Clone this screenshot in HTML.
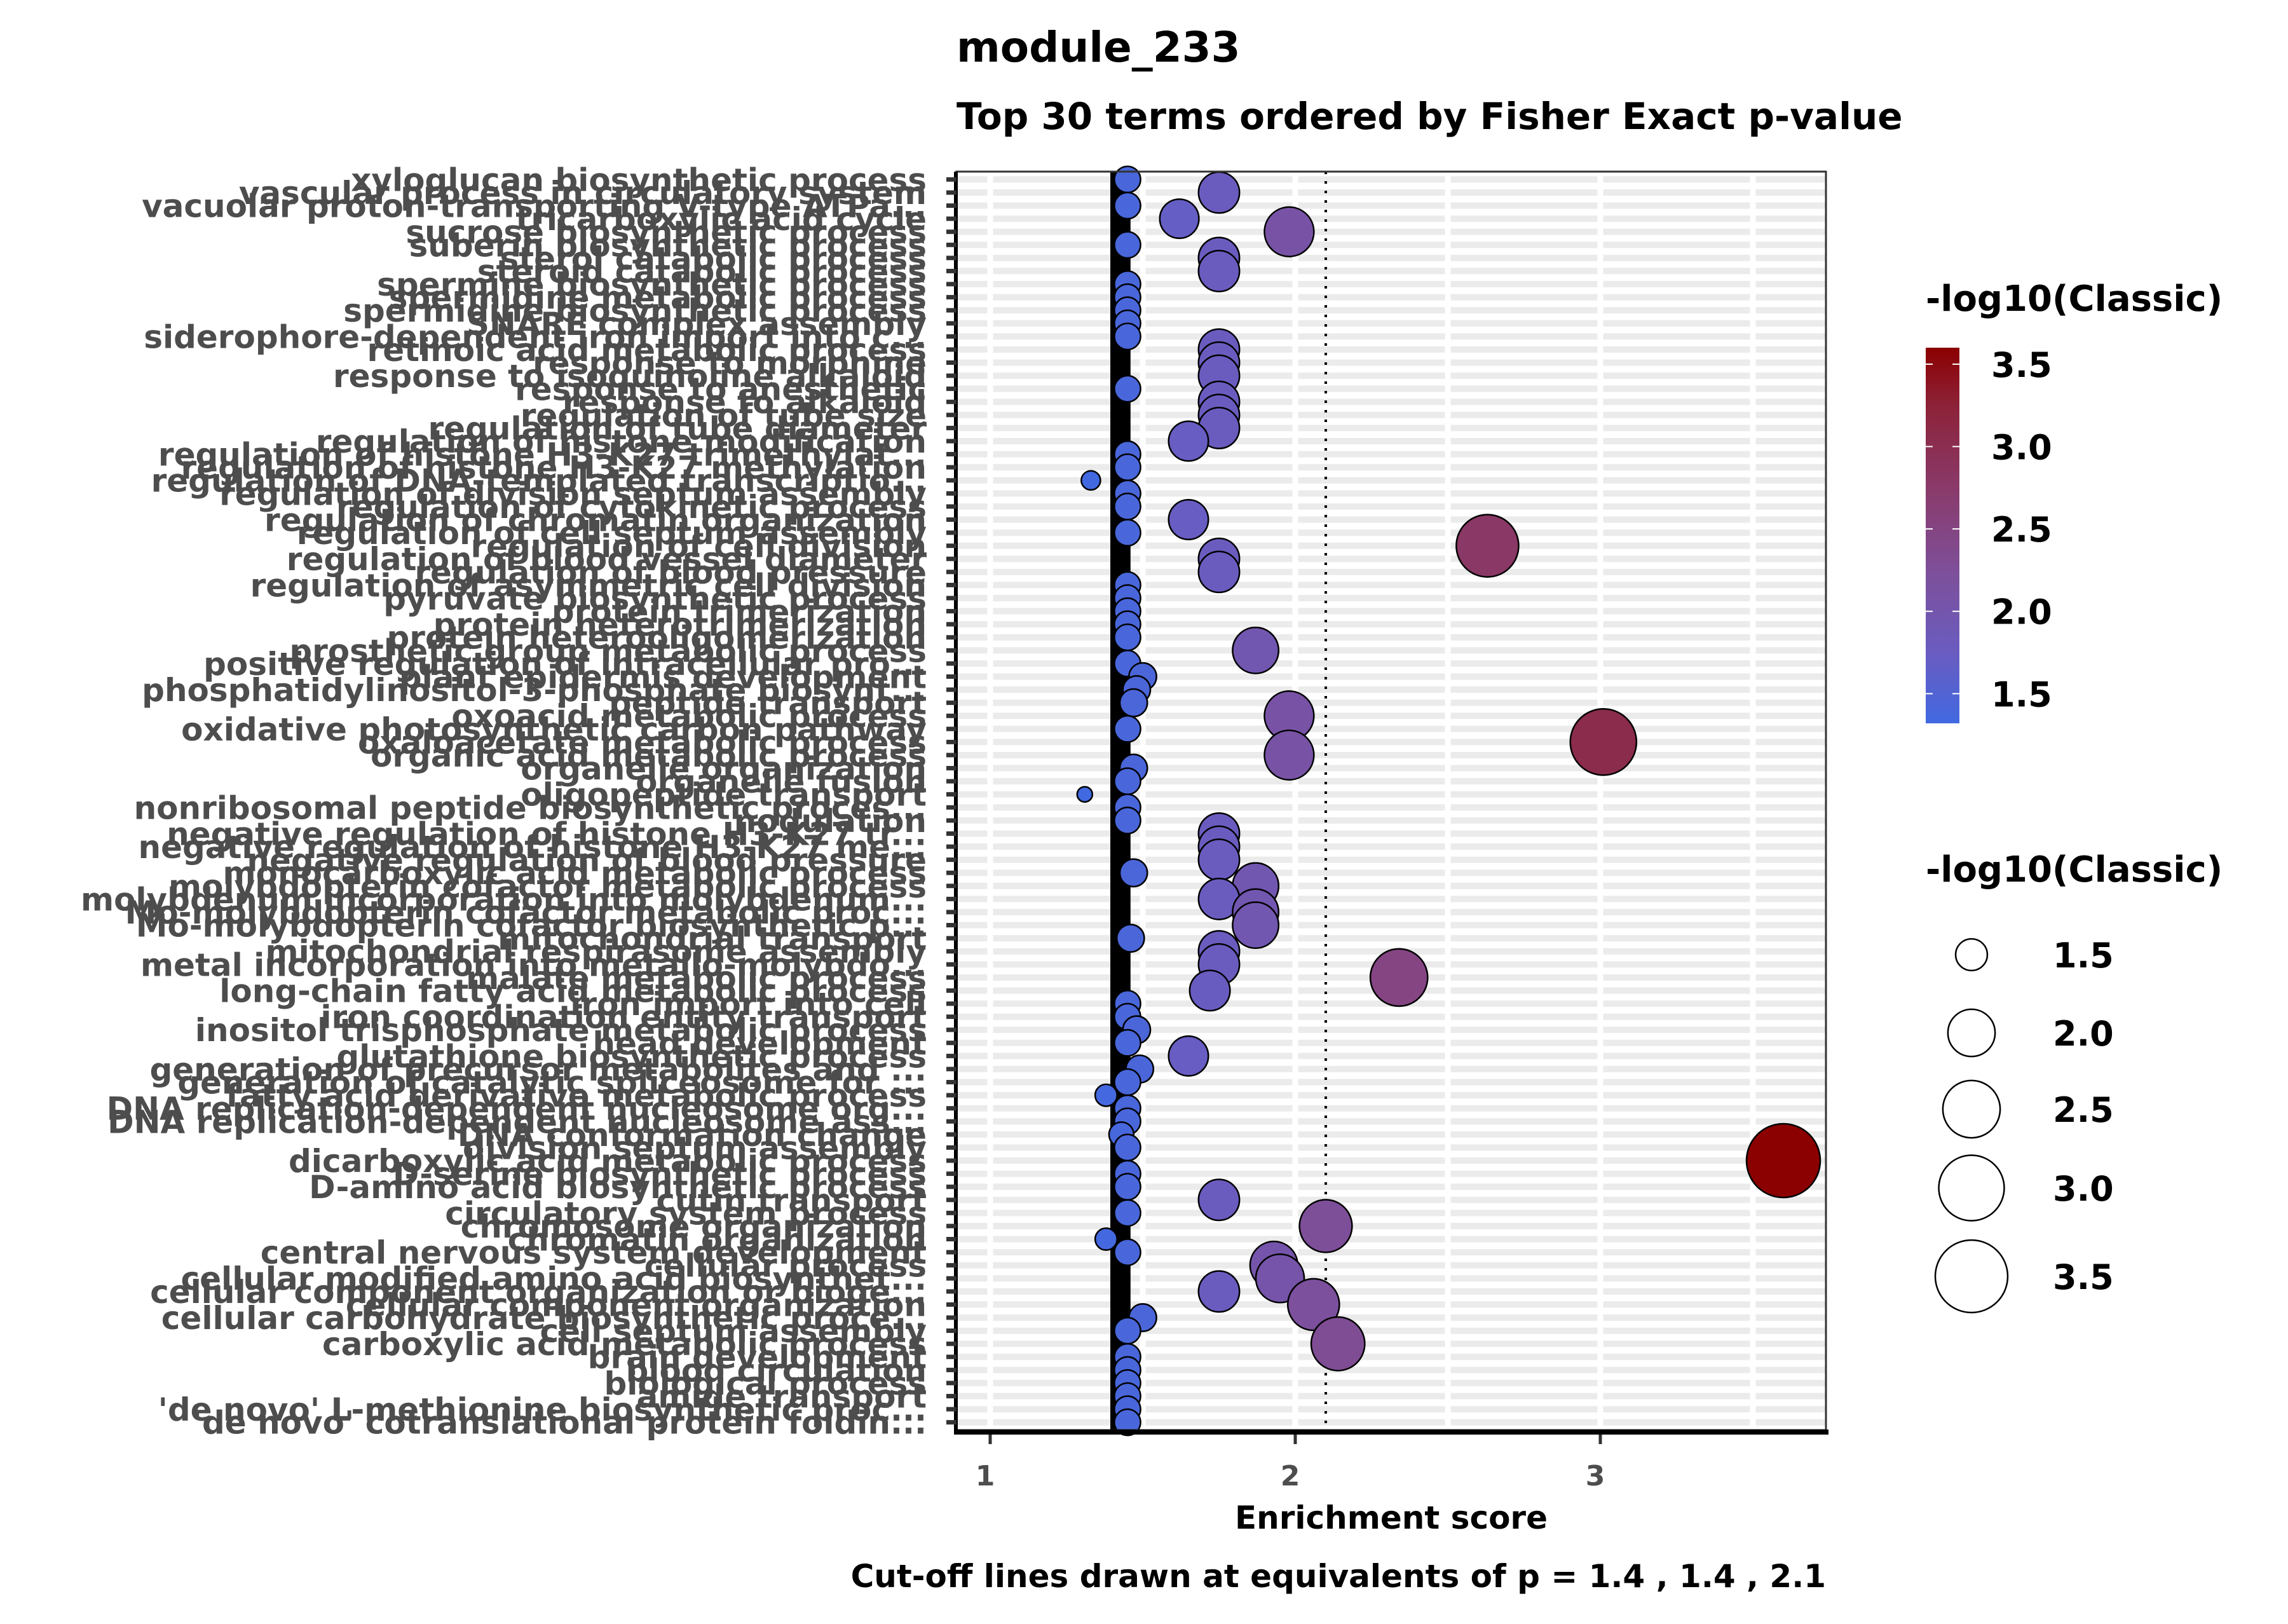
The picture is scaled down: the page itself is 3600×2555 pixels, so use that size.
<!DOCTYPE html>
<html><head><meta charset="utf-8"><style>
html,body{margin:0;padding:0;background:#fff;}
svg text{font-family:"DejaVu Sans","Liberation Sans",sans-serif;font-weight:bold;}
</style></head><body>
<svg id="chart" width="3600" height="2550" viewBox="0 0 3600 2550" xmlns="http://www.w3.org/2000/svg">
<text x="1505" y="97" font-size="66" fill="#000">module_233</text>
<text x="1505" y="203" font-size="58" fill="#000">Top 30 terms ordered by Fisher Exact p-value</text>
<g id="panel"></g>
<text x="2189" y="2405" font-size="50" text-anchor="middle" fill="#000">Enrichment score</text>
<text x="2873" y="2497" font-size="50" text-anchor="end" fill="#000">Cut-off lines drawn at equivalents of p = 1.4 , 1.4 , 2.1</text>
<g id="legend"></g>
</svg>
<script>
const terms = ["xyloglucan biosynthetic process","vascular process in circulatory system","vacuolar proton-transporting V-type ATPa...","tricarboxylic acid cycle","sucrose biosynthetic process","suberin biosynthetic process","sterol catabolic process","steroid catabolic process","spermine biosynthetic process","spermidine metabolic process","spermidine biosynthetic process","SNARE complex assembly","siderophore-dependent iron import into c...","retinoic acid metabolic process","response to morphine","response to isoquinoline alkaloid","response to anesthetic","response to alkaloid","regulation of tube size","regulation of tube diameter","regulation of histone modification","regulation of histone H3-K27 trimethylat...","regulation of histone H3-K27 methylation","regulation of DNA-templated transcriptio...","regulation of division septum assembly","regulation of cytokinetic process","regulation of chromatin organization","regulation of cell septum assembly","regulation of cell division","regulation of blood vessel diameter","regulation of blood pressure","regulation of asymmetric cell division","pyruvate biosynthetic process","protein trimerization","protein heterotrimerization","protein heterooligomerization","prosthetic group metabolic process","positive regulation of intracellular pro...","plant epidermis development","phosphatidylinositol-3-phosphate biosynt...","peptide transport","oxoacid metabolic process","oxidative photosynthetic carbon pathway","oxaloacetate metabolic process","organic acid metabolic process","organelle organization","organelle fusion","oligopeptide transport","nonribosomal peptide biosynthetic proces...","nodulation","negative regulation of histone H3-K27 tr...","negative regulation of histone H3-K27 me...","negative regulation of blood pressure","monocarboxylic acid metabolic process","molybdopterin cofactor metabolic process","molybdenum incorporation into molybdenum...","Mo-molybdopterin cofactor metabolic proc...","Mo-molybdopterin cofactor biosynthetic p...","mitochondrial transport","mitochondrial respirasome assembly","metal incorporation into metallo-molybdo...","malate metabolic process","long-chain fatty acid metabolic process","iron import into cell","iron coordination entity transport","inositol trisphosphate metabolic process","head development","glutathione biosynthetic process","generation of precursor metabolites and ...","generation of catalytic spliceosome for ...","fatty acid derivative metabolic process","DNA replication-dependent nucleosome org...","DNA replication-dependent nucleosome ass...","DNA conformation change","division septum assembly","dicarboxylic acid metabolic process","D-serine biosynthetic process","D-amino acid biosynthetic process","cutin transport","circulatory system process","chromosome organization","chromatin organization","central nervous system development","cellular process","cellular modified amino acid biosynthet...","cellular component organization or bioge...","cellular component organization","cellular carbohydrate biosynthetic proce...","cell septum assembly","carboxylic acid metabolic process","brain development","blood circulation","biological process","amide transport","'de novo' L-methionine biosynthetic proc...","'de novo' cotranslational protein foldin..."];
const enrichment = [1.45,1.75,1.45,1.62,1.98,1.45,1.75,1.75,1.45,1.45,1.45,1.45,1.45,1.75,1.75,1.75,1.45,1.75,1.75,1.75,1.65,1.45,1.45,1.33,1.45,1.45,1.65,1.45,2.63,1.75,1.75,1.45,1.45,1.45,1.45,1.45,1.87,1.45,1.50,1.48,1.47,1.98,1.45,3.01,1.98,1.47,1.45,1.31,1.45,1.45,1.75,1.75,1.75,1.47,1.87,1.75,1.87,1.87,1.46,1.75,1.75,2.34,1.72,1.45,1.45,1.48,1.45,1.65,1.49,1.45,1.38,1.45,1.45,1.43,1.45,3.60,1.45,1.45,1.75,1.45,2.10,1.38,1.45,1.93,1.95,1.75,2.06,1.50,1.45,2.14,1.45,1.45,1.45,1.45,1.45,1.45];
const logp = [1.40,1.76,1.40,1.70,2.10,1.40,1.76,1.76,1.40,1.40,1.40,1.40,1.40,1.76,1.76,1.76,1.40,1.76,1.76,1.76,1.72,1.40,1.40,1.33,1.40,1.40,1.72,1.40,2.80,1.76,1.76,1.40,1.40,1.40,1.40,1.40,1.95,1.40,1.42,1.42,1.42,2.10,1.40,3.05,2.10,1.42,1.40,1.32,1.40,1.40,1.76,1.76,1.76,1.42,1.95,1.76,1.95,1.95,1.42,1.76,1.76,2.50,1.74,1.40,1.40,1.42,1.40,1.72,1.42,1.40,1.35,1.40,1.40,1.38,1.40,3.60,1.40,1.40,1.76,1.40,2.25,1.35,1.40,2.02,2.05,1.76,2.20,1.42,1.40,2.30,1.40,1.40,1.40,1.40,1.40,1.40];
const xTicks = [1,2,3];
const xGrid = [1,1.5,2,2.5,3,3.5];
const cutoffs = [1.4,1.4,2.1];
const colorTicks = [1.5,2.0,2.5,3.0,3.5];
const sizeTicks = [1.5,2.0,2.5,3.0,3.5];

const NS="http://www.w3.org/2000/svg";
const PL=1505,PR=2873,PT=270,PB=2250;
const VMIN=1.32,VMAX=3.6;
function xs(e){return 1558+(e-1)*480;}
const step=(PB-PT)/(terms.length-1+1.2);
function ys(i){return PT+(i+0.6)*step;}
function rs(v){return 12+46*Math.sqrt(Math.max(0,(v-VMIN)/(VMAX-VMIN)));}
const cstops=[[1.32,[65,105,225]],[1.75,[106,92,192]],[2.25,[126,79,153]],[2.75,[138,58,106]],[3.25,[140,34,56]],[3.6,[139,0,0]]];
function col(v){v=Math.max(VMIN,Math.min(VMAX,v));for(let k=0;k<cstops.length-1;k++){const a=cstops[k],b=cstops[k+1];if(v<=b[0]){const t=(v-a[0])/(b[0]-a[0]);const c=a[1].map((x,j)=>Math.round(x+(b[1][j]-x)*t));return `rgb(${c[0]},${c[1]},${c[2]})`;}}return "rgb(139,0,0)";}
function mk(tag,attrs,parent){const el=document.createElementNS(NS,tag);for(const k in attrs)el.setAttribute(k,attrs[k]);parent.appendChild(el);return el;}

const panel=document.getElementById('panel');
mk('rect',{x:PL,y:PT,width:PR-PL,height:PB-PT,fill:'#fff'},panel);
terms.forEach((t,i)=>{
  const g=mk('line',{x1:PL,x2:PR,y1:ys(i),y2:ys(i),stroke:'#EBEBEB','stroke-width':10},panel);
  
  
});
xGrid.forEach(v=>{
  const g=mk('line',{x1:xs(v),x2:xs(v),y1:PT,y2:PB,stroke:'#fff','stroke-width':9},panel);
  
  
});
const band=mk('rect',{x:xs(cutoffs[0])-3,y:PT,width:xs(1.46)-xs(cutoffs[0])+3,height:PB-PT,fill:'#000'},panel);


const dl=mk('line',{x1:xs(cutoffs[2]),x2:xs(cutoffs[2]),y1:PT,y2:PB,stroke:'#000','stroke-width':4,'stroke-dasharray':'4 11'},panel);


terms.forEach((t,i)=>{
  const c=mk('circle',{cx:xs(enrichment[i]),cy:ys(i),r:rs(logp[i]),fill:col(logp[i]),stroke:'#000','stroke-width':2.5},panel);
  
  
});
mk('rect',{x:PL,y:PT,width:PR-PL,height:PB-PT,fill:'none',stroke:'#333','stroke-width':3},panel);
const xa=mk('line',{x1:PL-4,x2:PR+4,y1:PB+3,y2:PB+3,stroke:'#000','stroke-width':8},panel);


const ya=mk('line',{x1:PL-1,x2:PL-1,y1:PT,y2:PB+6,stroke:'#000','stroke-width':6},panel);


terms.forEach((t,i)=>{
  mk('line',{x1:PL-16,x2:PL,y1:ys(i),y2:ys(i),stroke:'#333','stroke-width':7},panel);
  const tx=mk('text',{x:1458,y:ys(i)+18,'font-size':50,'text-anchor':'end',fill:'#4D4D4D'},panel);
  tx.textContent=t;
  
  
});
xTicks.forEach(v=>{
  mk('line',{x1:xs(v),x2:xs(v),y1:PB+7,y2:PB+22,stroke:'#333','stroke-width':5},panel);
  const tx=mk('text',{x:xs(v)-8,y:2337,'font-size':44,'text-anchor':'middle',fill:'#4D4D4D'},panel);
  tx.textContent=String(v);
  
  
});
const lg=document.getElementById('legend');
const LX=3030;
const lt1=mk('text',{x:LX,y:489,'font-size':56,fill:'#000'},lg);
lt1.textContent='-log10(Classic)';


const defs=mk('defs',{},lg);
const grad=mk('linearGradient',{id:'cg',x1:0,y1:1,x2:0,y2:0},defs);
cstops.forEach(s=>{mk('stop',{offset:((s[0]-VMIN)/(VMAX-VMIN)),'stop-color':col(s[0])},grad);});
const CB_T=547,CB_B=1138;
function yc(v){return CB_B-(v-VMIN)/(VMAX-VMIN)*(CB_B-CB_T);}
const cb=mk('rect',{x:LX,y:CB_T,width:53,height:CB_B-CB_T,fill:'url(#cg)'},lg);


colorTicks.forEach(v=>{
  mk('line',{x1:LX,x2:LX+11,y1:yc(v),y2:yc(v),stroke:'#fff','stroke-width':2},lg);
  mk('line',{x1:LX+42,x2:LX+53,y1:yc(v),y2:yc(v),stroke:'#fff','stroke-width':2},lg);
  const tx=mk('text',{x:LX+103,y:yc(v)+20,'font-size':54,fill:'#000'},lg);
  tx.textContent=v.toFixed(1);
  
  
});
const lt2=mk('text',{x:LX,y:1387,'font-size':56,fill:'#000'},lg);
lt2.textContent='-log10(Classic)';


const sizeY=[1502,1625,1745,1869,2008];
sizeTicks.forEach((v,k)=>{
  const c=mk('circle',{cx:LX+72,cy:sizeY[k],r:rs(v),fill:'#fff',stroke:'#000','stroke-width':2.5},lg);
  
  
  const tx=mk('text',{x:LX+200,y:sizeY[k]+20,'font-size':54,fill:'#000'},lg);
  tx.textContent=v.toFixed(1);
  
  
});
</script>
</body></html>
